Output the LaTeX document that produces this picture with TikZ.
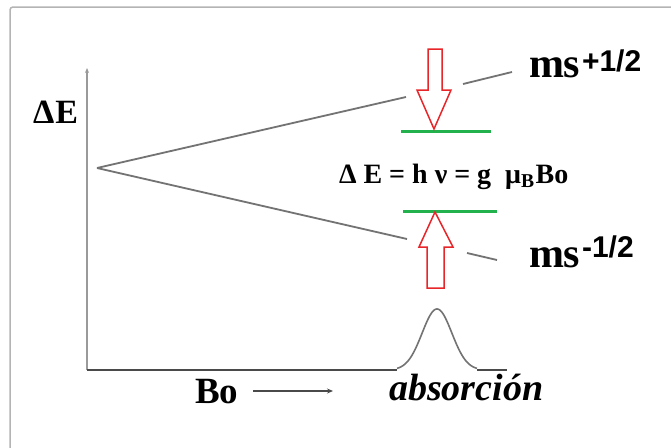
\documentclass[tikz,border=0pt]{standalone}
\usepackage{fontspec}
\setmainfont{Liberation Serif}
\newfontfamily\supfont{Liberation Sans}
\usetikzlibrary{arrows.meta}
\definecolor{framegray}{HTML}{B4B4B4}
\definecolor{linegray}{HTML}{737373}
\definecolor{axisdark}{HTML}{4A4A4A}
\definecolor{axislight}{HTML}{9A9A9A}
\definecolor{arrowred}{HTML}{E8262A}
\definecolor{levelgreen}{HTML}{22B14C}
\begin{document}
\begin{tikzpicture}[x=1pt,y=-1pt,
  branch/.style={draw=linegray, line width=1.8pt},
  level/.style={draw=levelgreen, line width=3pt},
  bigarrow/.style={draw=arrowred, line width=1.5pt, fill=white, line join=miter},
  lbl/.style={inner sep=0pt, outer sep=0pt, text=black, anchor=base west}]
\useasboundingbox (0,0) rectangle (671,447);
\fill[white] (0,0) rectangle (671,447);
\draw[framegray, line width=1.5pt, rounded corners=3pt] (10,7) rectangle (700,480);

% axes
\coordinate (origin) at (87,370);
\coordinate (ytop) at (87,68);
\draw[axislight, line width=1.3pt, -{Stealth[length=5pt,width=4pt]}] (origin) -- (ytop);
\coordinate (pk0) at (397,370);
\coordinate (pk1) at (477,370);
\coordinate (xend) at (507,370);
\draw[axisdark, line width=2.2pt] (origin) -- (pk0);
\draw[axisdark, line width=2.2pt] (pk1) -- (xend);
\draw[linegray, line width=1.6pt] plot[domain=397:477, samples=80, smooth] (\x, {370-61*exp(-((\x-437)/21)*((\x-437)/21))});

% branching levels
\coordinate (apex) at (97,168);
\coordinate (ua) at (406,97);
\coordinate (ub) at (463,84);
\coordinate (uc) at (512,72);
\coordinate (la) at (407,239);
\coordinate (lb) at (467,253);
\coordinate (lc) at (497,260);
\draw[branch] (apex) -- (ua);
\draw[branch] (ub) -- (uc);
\draw[branch] (apex) -- (la);
\draw[branch] (lb) -- (lc);

% green levels
\coordinate (g1a) at (401,131);
\coordinate (g1b) at (491,131);
\coordinate (g2a) at (403,211);
\coordinate (g2b) at (497,211);
\draw[level] (g1a) -- (g1b);
\draw[level] (g2a) -- (g2b);

% red arrows
\draw[bigarrow] (428,49) -- (442,49) -- (442,90) -- (451,90) -- (434,129) -- (417,90) -- (428,90) -- cycle;
\draw[bigarrow] (427,288) -- (444,288) -- (444,247) -- (453,247) -- (435,212) -- (419,247) -- (427,247) -- cycle;

% texts
\node[lbl, font=\fontsize{34}{34}\selectfont\bfseries] (dE) at (33,123) {Δ\kern1ptE};
\node[lbl, font=\fontsize{42}{42}\selectfont\bfseries] (msp) at (529,77) {ms};
\node[lbl, font=\fontsize{30}{30}\selectfont\supfont\bfseries] (supp) at (582,71) {+1/2};
\node[lbl, font=\fontsize{42}{42}\selectfont\bfseries] (msm) at (529,267) {ms};
\node[lbl, font=\fontsize{30}{30}\selectfont\supfont\bfseries] (supm) at (582,257) {-1/2};
\node[lbl, font=\fontsize{28}{28}\selectfont\bfseries] (eq) at (339,183) {Δ E = h ν = g \ μ\textsubscript{B}\kern1ptBo};
\node[lbl, font=\fontsize{37}{37}\selectfont\bfseries] (bo) at (195,403) {Bo};
\coordinate (ba0) at (253,391);
\coordinate (ba1) at (333,391);
\draw[axisdark, line width=1.5pt, -{Stealth[length=6pt,width=5pt]}] (ba0) -- (ba1);
\node[lbl, font=\fontsize{38}{38}\selectfont\bfseries\itshape] (abs) at (389,400) {absorción};
\end{tikzpicture}
\end{document}
